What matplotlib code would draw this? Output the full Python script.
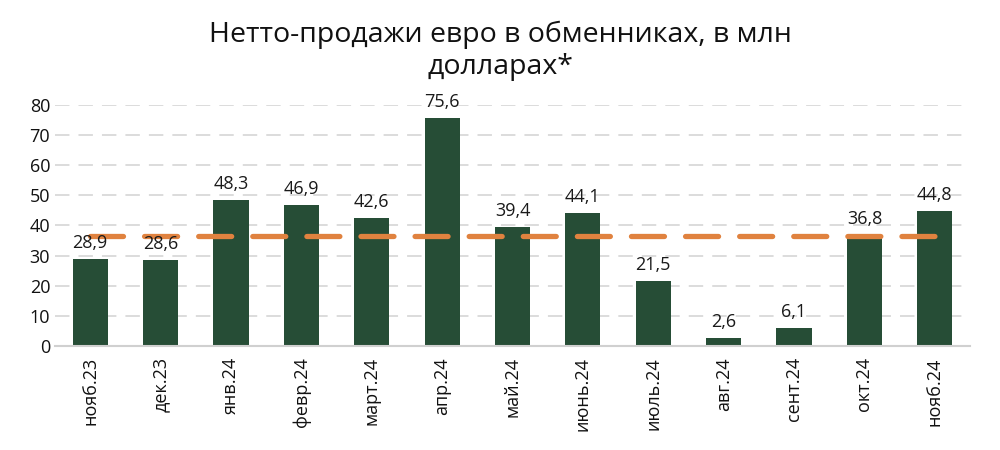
import numpy as np
import matplotlib.pyplot as plt

# Data
months = ['нояб.23', 'дек.23', 'янв.24', 'февр.24', 'март.24', 'апр.24', 'май.24',
          'июнь.24', 'июль.24', 'авг.24', 'сент.24', 'окт.24', 'нояб.24']
sales = [28.9, 28.6, 48.3, 46.9, 42.6, 75.6, 39.4, 44.1, 21.5, 2.6, 6.1, 36.8, 44.8]
avg_value = 36.4  # dashed orange level

plt.rcParams['font.family'] = ['Open Sans', 'DejaVu Sans']

fig = plt.figure(figsize=(10, 4.5), dpi=100)
ax = fig.add_axes([0.055, 0.231, 0.915, 0.536])

x = np.arange(len(months))
ax.bar(x, sales, width=0.5, color='#264D36', zorder=2)

line, = ax.plot(x, [avg_value] * len(x), color='#E0823F', lw=3.8, zorder=3)
line.set_dashes((6.25, 4.0))
line.set_dash_capstyle('round')

for xi, v in zip(x, sales):
    ax.annotate(f'{v:.1f}'.replace('.', ','), (xi, v), xytext=(0, 5),
                textcoords='offset points', ha='center', va='bottom',
                fontsize=13, color='#1a1a1a', zorder=4)

ax.set_xlim(-0.5, len(months) - 0.5)
ax.set_ylim(0, 80)
ax.set_yticks(range(0, 81, 10))
ax.set_xticks(x)
ax.set_xticklabels(months, rotation=90)
ax.tick_params(axis='both', length=0, labelsize=13, colors='#111111')
ax.tick_params(axis='x', pad=8)

ax.yaxis.grid(True, color='#d9d9d9', lw=1.3, dashes=(8, 5), zorder=0)
ax.set_axisbelow(True)
for s in ['top', 'right', 'left']:
    ax.spines[s].set_visible(False)
ax.spines['bottom'].set_color('#d0d0d0')
ax.spines['bottom'].set_linewidth(1.5)

fig.suptitle('Нетто-продажи евро в обменниках, в млн\nдолларах*', y=0.955,
             fontsize=20.5, color='#111111', linespacing=1.2)

fig.savefig('out.png', dpi=100)
